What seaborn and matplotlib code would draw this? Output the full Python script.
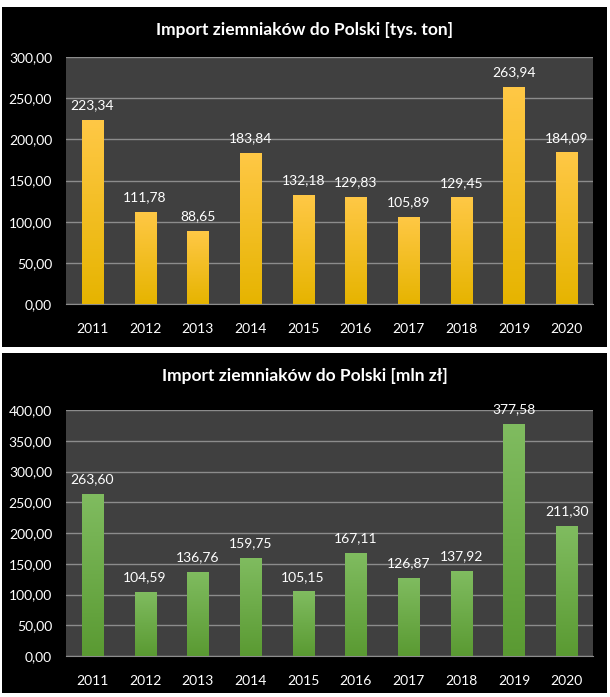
import numpy as np
import pandas as pd
import seaborn as sns
import matplotlib.pyplot as plt
from matplotlib.patches import Rectangle
from matplotlib.colors import LinearSegmentedColormap

years = ["2011", "2012", "2013", "2014", "2015", "2016", "2017", "2018", "2019", "2020"]
tons = [223.34, 111.78, 88.65, 183.84, 132.18, 129.83, 105.89, 129.45, 263.94, 184.09]
pln = [263.60, 104.59, 136.76, 159.75, 105.15, 167.11, 126.87, 137.92, 377.58, 211.30]

sns.set_style("dark")
plt.rcParams['font.family'] = ['Lato', 'DejaVu Sans']

W, H = 610, 697
fig = plt.figure(figsize=(W / 100, H / 100), dpi=100)
fig.patch.set_facecolor("white")


def fx(px):
    return px / W


def fy(py):
    return 1 - py / H


def panel(top, bottom, ax_top, ax_bottom, values, ymax, step, title, c_top, c_bot):
    fig.patches.append(Rectangle((fx(2), fy(bottom)), fx(605), (bottom - top) / H,
                                 transform=fig.transFigure, facecolor="black",
                                 edgecolor="none", zorder=-5))
    ax = fig.add_axes([fx(66), fy(ax_bottom), fx(527), (ax_bottom - ax_top) / H])
    df = pd.DataFrame({"year": years, "value": values})
    sns.barplot(data=df, x="year", y="value", ax=ax, color=c_bot, width=0.4,
                saturation=1, linewidth=0, zorder=3)
    ax.set_facecolor("#404040")
    ax.set_ylim(0, ymax)
    ticks = np.arange(0, ymax + 1, step)
    ax.set_yticks(ticks)
    ax.set_yticklabels([f"{t:.2f}".replace(".", ",") for t in ticks])
    ax.grid(axis="y", color="#8c8c8c", linewidth=1, zorder=1)
    ax.grid(axis="x", visible=False)
    ax.set_axisbelow(True)
    ax.tick_params(colors="white", labelsize=10, length=0, pad=14)
    ax.tick_params(axis="y", pad=10)
    ax.set_xlabel("")
    ax.set_ylabel("")
    for s in ["top", "right", "left"]:
        ax.spines[s].set_visible(False)
    ax.spines["bottom"].set_color("#8c8c8c")
    cmap = LinearSegmentedColormap.from_list("g", [c_top, c_bot])
    grad = np.linspace(0, 1, 256).reshape(-1, 1)
    for p, v in zip(ax.patches, values):
        x0, w = p.get_x(), p.get_width()
        im = ax.imshow(grad, cmap=cmap, aspect="auto", extent=[x0, x0 + w, 0, v],
                       origin="upper", zorder=4)
        im.set_clip_path(p)
        ax.text(x0 + w / 2, v + ymax * 0.035, f"{v:.2f}".replace(".", ","),
                ha="center", va="bottom", color="white", fontsize=10, zorder=5)
    ax.set_xlim(-0.5, len(values) - 0.5)
    fig.text(0.5, fy(top + 23), title, ha="center", va="center", color="white",
             fontsize=12.5, fontweight="bold")


panel(7, 347, 57, 304, tons, 300, 50, "Import ziemniaków do Polski [tys. ton]",
      "#FFC846", "#E6B400")
panel(353, 693, 410, 656, pln, 400, 50, "Import ziemniaków do Polski [mln zł]",
      "#80BC60", "#5A9A32")

fig.savefig("out.png", dpi=100, facecolor="white")
